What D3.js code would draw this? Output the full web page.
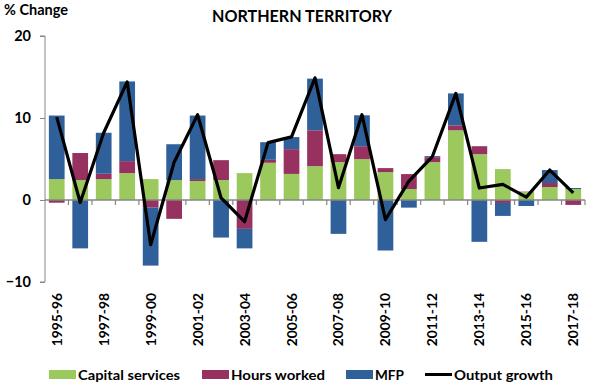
<!DOCTYPE html>
<html>
<head>
<meta charset="utf-8">
<script src="https://cdn.jsdelivr.net/npm/d3@7"></script>
<style>
  html, body { margin: 0; padding: 0; background: #fff; }
  svg { display: block; font-family: Lato, "Open Sans", sans-serif; font-weight: bold; }
</style>
</head>
<body>
<svg id="chart" width="596" height="383"></svg>
<script>
const categories = ["1995-96","1996-97","1997-98","1998-99","1999-00","2000-01","2001-02","2002-03","2003-04","2004-05","2005-06","2006-07","2007-08","2008-09","2009-10","2010-11","2011-12","2012-13","2013-14","2014-15","2015-16","2016-17","2017-18"];
const capitalServices = [2.55, 2.43, 2.55, 3.28, 2.55, 2.43, 2.31, 2.43, 3.28, 4.54, 3.18, 4.13, 4.62, 4.98, 3.40, 1.34, 4.62, 8.50, 5.59, 3.77, 0.97, 1.58, 1.34];
const hoursWorked     = [-0.33, 3.30, 0.65, 1.46, -0.93, -2.30, 0.24, 2.43, -3.52, 0.36, 3.02, 4.37, 0.97, 1.58, 0.49, 1.82, 0.60, 0.60, 0.97, -0.36, 0.05, 0.49, -0.60];
const mfp             = [7.75, -5.90, 5.00, 9.72, -7.07, 4.37, 7.75, -4.58, -2.38, 2.15, 1.47, 6.30, -4.13, 3.77, -6.16, -0.93, 0.13, 3.90, -5.10, -1.58, -0.73, 1.58, 0.12];
const outputGrowth    = [10.1, -0.3, 8.2, 14.4, -5.45, 4.6, 10.4, 0.25, -2.65, 7.0, 7.7, 14.9, 1.5, 10.4, -2.4, 2.3, 5.3, 13.0, 1.46, 1.9, 0.35, 3.65, 0.86];
const yTicks = [-10, 0, 10, 20];
const xLabelEvery = 2;
const seriesNames = ["Capital services", "Hours worked", "MFP"];
const colors = ["#9BC95E", "#973260", "#30609A"];

const svg = d3.select("#chart");
const plotLeft = 45, plotRight = 585, plotTop = 36, plotBottom = 282;

const x = d3.scaleBand().domain(categories).range([plotLeft, plotRight]).paddingInner(0.33).paddingOuter(0.165);
const y = d3.scaleLinear().domain([-10, 20]).range([plotBottom, plotTop]);

const rows = categories.map((c, i) => ({cat: c, "Capital services": capitalServices[i], "Hours worked": hoursWorked[i], "MFP": mfp[i]}));
const stack = d3.stack().keys(seriesNames).offset(d3.stackOffsetDiverging);
const layers = stack(rows);

// bars
svg.append("g").selectAll("g").data(layers).join("g")
  .attr("fill", (d, i) => colors[i])
  .selectAll("rect").data(d => d).join("rect")
  .attr("x", d => x(d.data.cat))
  .attr("width", x.bandwidth())
  .attr("y", d => y(Math.max(d[0], d[1])))
  .attr("height", d => Math.abs(y(d[0]) - y(d[1])));

// y axis
const yAxis = d3.axisLeft(y).tickValues(yTicks).tickSize(5).tickPadding(9).tickFormat(d3.format("d"));
const gy = svg.append("g").attr("transform", `translate(${plotLeft},0)`).call(yAxis);
gy.select(".domain").attr("stroke", "#868686").attr("d", `M-5,${y(20)}H0V${y(-10)}H-5`);
gy.selectAll(".tick line").attr("stroke", "#868686");
gy.selectAll(".tick text").attr("font-size", 14.5).attr("font-weight", "bold").attr("fill", "#000")
  .attr("font-family", "Lato, sans-serif");

// x axis at zero
const step = x.step();
const boundaries = d3.range(categories.length + 1).map(k => x.range()[0] + k * step);
const gx = svg.append("g");
gx.append("line").attr("x1", plotLeft).attr("x2", plotRight).attr("y1", y(0)).attr("y2", y(0)).attr("stroke", "#868686").attr("stroke-width", 1.5);
gx.selectAll("line.t").data(boundaries.slice(1)).join("line").attr("class", "t")
  .attr("x1", d => d).attr("x2", d => d).attr("y1", y(0)).attr("y2", y(0) + 5).attr("stroke", "#868686").attr("stroke-width", 1.2);

// x labels
svg.append("g").selectAll("text").data(categories.filter((c, i) => i % xLabelEvery === 0)).join("text")
  .attr("transform", d => `translate(${x(d) + x.bandwidth() / 2 + 5},293) rotate(-90)`)
  .attr("text-anchor", "end")
  .attr("font-size", 13.8)
  .attr("fill", "#000")
  .text(d => d);

// output line
const line = d3.line().x((d, i) => x(categories[i]) + x.bandwidth() / 2).y(d => y(d));
svg.append("path").datum(outputGrowth).attr("d", line).attr("fill", "none").attr("stroke", "#000").attr("stroke-width", 3.2).attr("stroke-linejoin", "round");

// title
svg.append("text").attr("x", 212).attr("y", 22).attr("font-size", 16.2).attr("fill", "#000")
  .attr("textLength", 180).attr("lengthAdjust", "spacingAndGlyphs").text("NORTHERN TERRITORY");
svg.append("text").attr("x", 4).attr("y", 15).attr("font-size", 14.2).attr("fill", "#000")
  .attr("textLength", 64).attr("lengthAdjust", "spacingAndGlyphs").text("% Change");

// legend
const legendItems = [
  {name: seriesNames[0], type: "rect", color: colors[0], x: 49, w: 102},
  {name: seriesNames[1], type: "rect", color: colors[1], x: 202, w: 94},
  {name: seriesNames[2], type: "rect", color: colors[2], x: 346, w: 29},
  {name: "Output growth", type: "line", color: "#000", x: 425, w: 99}
];
const lg = svg.append("g");
legendItems.forEach(it => {
  if (it.type === "rect") {
    lg.append("rect").attr("x", it.x).attr("y", 370).attr("width", 27).attr("height", 9).attr("fill", it.color);
  } else {
    lg.append("line").attr("x1", it.x).attr("x2", it.x + 27).attr("y1", 374.5).attr("y2", 374.5).attr("stroke", it.color).attr("stroke-width", 3);
  }
  lg.append("text").attr("x", it.x + 29).attr("y", 379.5).attr("font-size", 14).attr("fill", "#000")
    .attr("textLength", it.w).attr("lengthAdjust", "spacingAndGlyphs").text(it.name);
});
</script>
</body>
</html>
